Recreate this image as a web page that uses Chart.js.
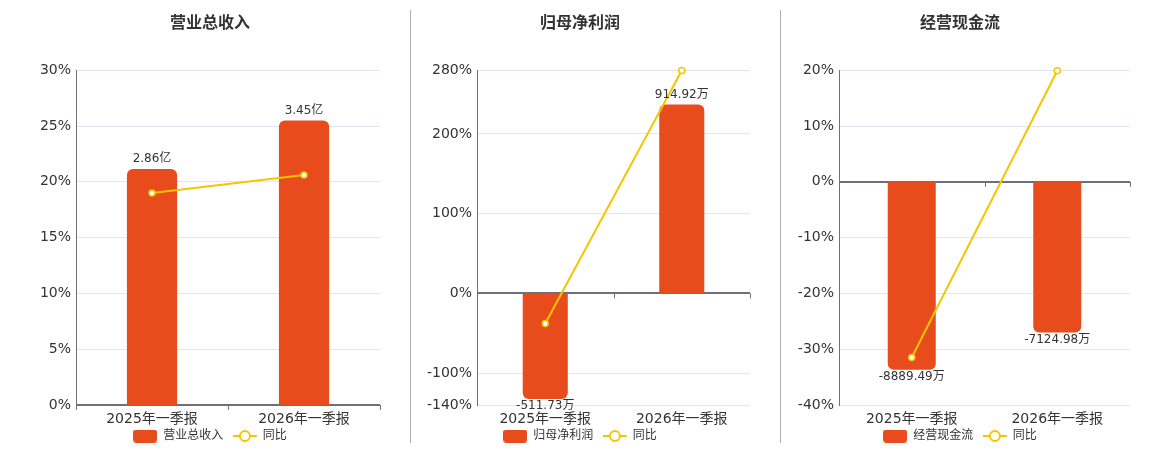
<!DOCTYPE html>
<html>
  <head>
    <meta charset="utf-8">
    <title>财务指标</title>
    <script src="https://cdn.jsdelivr.net/npm/chart.js"></script>
    <style>
      body { margin: 0; background: #fff; }
      .row { display: flex; width: 1160px; height: 450px; }
      .panel { position: relative; height: 450px; }
      .sep { position: absolute; left: 0; top: 10px; height: 433px; border-left: 1px solid #b0b0b0; }
    </style>
    <script>
    // categories
    var categories = ['2025年一季报', '2026年一季报'];

    // 营业总收入 (亿) and 同比 (%)
    var revenueValues = [2.86, 3.45];
    var revenueYoY = [19.0, 20.6];
    var revenueTicks = [0, 5, 10, 15, 20, 25, 30];

    // 归母净利润 (万) and 同比 (%)
    var profitValues = [-511.73, 914.92];
    var profitYoY = [-37.7, 279.5];
    var profitTicks = [-140, -100, 0, 100, 200, 280];

    // 经营现金流 (万) and 同比 (%)
    var cashValues = [-8889.49, -7124.98];
    var cashYoY = [-31.5, 19.9];
    var cashTicks = [-40, -30, -20, -10, 0, 10, 20];

    // where the largest bar ends on the % axis
    var revenueBarTop = 25.5;
    var profitBarTop = 237;
    var cashBarTop = -33.7;

    var FONT = "'DejaVu Sans', 'Noto Sans CJK SC', sans-serif";
    var BAR = '#E84B1C';
    var LINE = '#F4C600';
    var TEXT = '#333333';
    var AXIS = '#6E7079';
    var GRID = '#E0E6F1';

    function barIcon() {
      var c = document.createElement('canvas');
      c.width = 24; c.height = 13;
      var g = c.getContext('2d');
      g.fillStyle = BAR;
      g.beginPath();
      g.roundRect(0, 0, 24, 13, 3);
      g.fill();
      return c;
    }

    function lineIcon() {
      var c = document.createElement('canvas');
      c.width = 26; c.height = 14;
      var g = c.getContext('2d');
      g.strokeStyle = LINE;
      g.lineWidth = 2;
      g.beginPath();
      g.moveTo(1, 7); g.lineTo(25, 7);
      g.stroke();
      g.fillStyle = '#fff';
      g.beginPath();
      g.arc(13, 7, 5, 0, Math.PI * 2);
      g.fill();
      g.stroke();
      return c;
    }

    // value labels on the bars + small ticks on the zero line
    var barLabels = {
      id: 'barLabels',
      afterDatasetsDraw: function(chart) {
        var ctx = chart.ctx;
        var meta = chart.getDatasetMeta(0);
        var ds = chart.data.datasets[0];
        ctx.save();
        ctx.font = '12px ' + FONT;
        ctx.fillStyle = TEXT;
        ctx.textAlign = 'center';
        meta.data.forEach(function(bar, i) {
          var v = ds.data[i];
          var txt = v.toFixed(2) + ds.unit;
          if (v >= 0) {
            ctx.textBaseline = 'bottom';
            ctx.fillText(txt, bar.x, bar.y - 4);
          } else {
            ctx.textBaseline = 'top';
            ctx.fillText(txt, bar.x, bar.y + 1);
          }
        });
        var xs = chart.scales.x;
        var y0 = chart.scales.y.getPixelForValue(0);
        var step = (xs.right - xs.left) / categories.length;
        ctx.strokeStyle = AXIS;
        ctx.lineWidth = 1;
        for (var k = 0; k <= categories.length; k++) {
          var px = Math.round(xs.left + k * step) + 0.5;
          ctx.beginPath();
          ctx.moveTo(px, y0);
          ctx.lineTo(px, y0 + 5);
          ctx.stroke();
        }
        ctx.restore();
      }
    };

    // p = { padL, padR, spacer, yWidth }
    function makeChart(id, title, name, bars, yoy, ticks, barTop, unit, p) {
      var maxAbs = Math.max.apply(null, bars.map(Math.abs));
      var k = maxAbs / Math.abs(barTop);
      var tMin = ticks[0], tMax = ticks[ticks.length - 1];
      return new Chart(document.getElementById(id), {
        data: {
          labels: categories,
          datasets: [{
            type: 'bar',
            label: name,
            unit: unit,
            data: bars,
            yAxisID: 'yBar',
            backgroundColor: BAR,
            borderRadius: 6,
            borderSkipped: 'start',
            barPercentage: 0.33,
            categoryPercentage: 1,
            order: 2
          }, {
            type: 'line',
            label: '同比',
            data: yoy,
            yAxisID: 'y',
            borderColor: LINE,
            borderWidth: 2,
            pointRadius: 3,
            pointBorderWidth: 1.5,
            pointBackgroundColor: '#fff',
            pointBorderColor: LINE,
            clip: 8,
            order: 1
          }]
        },
        options: {
          responsive: true,
          maintainAspectRatio: false,
          animation: false,
          layout: { padding: { left: p.padL, right: p.padR, bottom: -2 } },
          plugins: {
            title: {
              display: true,
              text: title,
              color: TEXT,
              font: { family: FONT, size: 16, weight: 'bold' },
              padding: { top: 14, bottom: 37 }
            },
            legend: {
              position: 'bottom',
              labels: {
                usePointStyle: true,
                pointStyleWidth: 24,
                padding: 2,
                color: TEXT,
                font: { family: FONT, size: 12 },
                generateLabels: function(chart) {
                  return [
                    { text: name + '  ', pointStyle: barIcon(), datasetIndex: 0, fontColor: TEXT, lineWidth: 0 },
                    { text: '同比', pointStyle: lineIcon(), datasetIndex: 1, fontColor: TEXT, lineWidth: 0 }
                  ];
                }
              }
            },
            tooltip: { enabled: false }
          },
          scales: {
            x: {
              offset: true,
              grid: { display: false, drawTicks: false },
              border: { display: false },
              afterFit: function(s) { s.height = 23; },
              ticks: { color: TEXT, font: { family: FONT, size: 14 }, padding: 6 }
            },
            y: {
              position: 'left',
              min: tMin,
              max: tMax,
              afterBuildTicks: function(s) {
                s.ticks = ticks.map(function(v) { return { value: v }; });
              },
              afterFit: function(s) { s.width = p.yWidth; },
              border: { display: true, color: AXIS, width: 1 },
              grid: {
                drawTicks: false,
                color: function(c) { return c.tick && c.tick.value === 0 ? AXIS : GRID; },
                lineWidth: function(c) { return c.tick && c.tick.value === 0 ? 2 : 1; }
              },
              ticks: {
                color: TEXT,
                padding: 5,
                font: { family: FONT, size: 14 },
                callback: function(v) { return v + '%'; }
              }
            },
            yBar: {
              position: 'right',
              min: tMin * k,
              max: tMax * k,
              afterFit: function(s) { s.width = p.spacer; },
              grid: { display: false },
              border: { display: false },
              ticks: { display: false }
            }
          }
        },
        plugins: [barLabels]
      });
    }

    window.addEventListener('load', function() {
      makeChart('c1', '营业总收入', '营业总收入', revenueValues, revenueYoY, revenueTicks, revenueBarTop, '亿',
        { padL: 10, padR: 0, spacer: 30, yWidth: 66 });
      makeChart('c2', '归母净利润', '归母净利润', profitValues, profitYoY, profitTicks, profitBarTop, '万',
        { padL: 0, padR: 30, spacer: 0, yWidth: 67 });
      makeChart('c3', '经营现金流', '经营现金流', cashValues, cashYoY, cashTicks, cashBarTop, '万',
        { padL: 0, padR: 20, spacer: 10, yWidth: 59 });
    });
    </script>
  </head>
  <body>
    <div class="row">
      <div class="panel" style="width:410px"><canvas id="c1"></canvas></div>
      <div class="panel" style="width:370px"><div class="sep"></div><canvas id="c2"></canvas></div>
      <div class="panel" style="width:380px"><div class="sep"></div><canvas id="c3"></canvas></div>
    </div>
  </body>
</html>
